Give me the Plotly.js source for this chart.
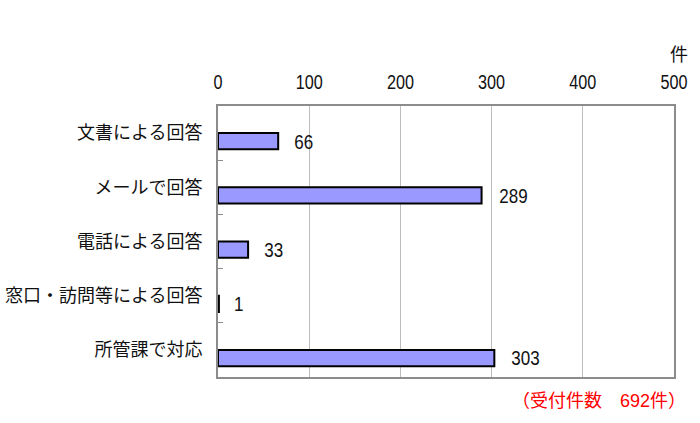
<!DOCTYPE html>
<html>
<head>
<meta charset="utf-8">
<script src="https://cdn.plot.ly/plotly-3.0.1.min.js"></script>
<style>html,body{margin:0;padding:0;background:#fff;}#chart{width:700px;height:423px;}</style>
</head>
<body>
<div id="chart"></div>
<script>
const categories = ["文書による回答", "メールで回答", "電話による回答", "窓口・訪問等による回答", "所管課で対応"];
const values = [66, 289, 33, 1, 303];
const tickValues = [0, 100, 200, 300, 400, 500];
const tickLabels = ["0", "100", "200", "300", "400", "500"];
const unitLabel = "件";
const totalNote = "（受付件数　692件）";

const FONT = "'Liberation Sans', 'Noto Sans CJK JP', sans-serif";
const CJK = "'Noto Sans CJK JP', sans-serif";

const trace = {
  type: "bar",
  orientation: "h",
  x: values,
  y: categories,
  width: 0.3,
  offset: 0,
  marker: { color: "#9999FF", line: { color: "#000000", width: 2 } },
  hoverinfo: "none"
};

const annotations = values.map((v, i) => ({
  x: v, y: categories[i], xref: "x", yref: "y",
  text: String(v), showarrow: false, xanchor: "left", yanchor: "middle",
  xshift: 12, yshift: -8,
  font: { family: FONT, size: 21, color: "#111" }
}));
annotations.push({
  x: 1, y: 1, xref: "paper", yref: "paper", text: unitLabel, showarrow: false,
  xanchor: "left", yanchor: "bottom", xshift: -6, yshift: 38,
  font: { family: CJK, size: 18, color: "#111" }
});
annotations.push({
  x: 1, y: 0, xref: "paper", yref: "paper", text: totalNote, showarrow: false,
  xanchor: "right", yanchor: "top", xshift: 14, yshift: -12,
  font: { family: FONT, size: 18, color: "#FF0000" }
});

const layout = {
  width: 700, height: 423,
  margin: { l: 218, r: 26, t: 106, b: 46 },
  paper_bgcolor: "#fff", plot_bgcolor: "#fff",
  showlegend: false,
  font: { family: FONT, color: "#111" },
  xaxis: {
    side: "top", range: [0, 500], tickvals: tickValues, ticktext: tickLabels,
    showgrid: true, gridcolor: "#BDBDBD", gridwidth: 1,
    showline: true, mirror: true, linecolor: "#8C8C8C", linewidth: 2,
    ticks: "outside", ticklen: 7, tickcolor: "rgba(0,0,0,0)",
    tickfont: { family: FONT, size: 20, color: "#111" },
    zeroline: false, fixedrange: true
  },
  yaxis: {
    type: "category", range: [4.5, -0.5],
    tickson: "boundaries", ticks: "inside", ticklen: 5, tickcolor: "#8C8C8C",
    showline: true, mirror: true, linecolor: "#8C8C8C", linewidth: 2,
    showgrid: false, ticklabelstandoff: 10,
    tickfont: { family: CJK, size: 18, color: "#111" },
    fixedrange: true
  },
  annotations: annotations
};

function condenseDigits() {
  document.querySelectorAll('#chart .xtick text, #chart .annotation-text-g text').forEach(t => {
    if (!/^\d+$/.test(t.textContent.trim())) return;
    const w = t.getComputedTextLength();
    t.setAttribute('textLength', (w * 0.81).toFixed(2));
    t.setAttribute('lengthAdjust', 'spacingAndGlyphs');
  });
}

Plotly.newPlot("chart", [trace], layout, { staticPlot: true, displayModeBar: false }).then(condenseDigits);
</script>
</body>
</html>
